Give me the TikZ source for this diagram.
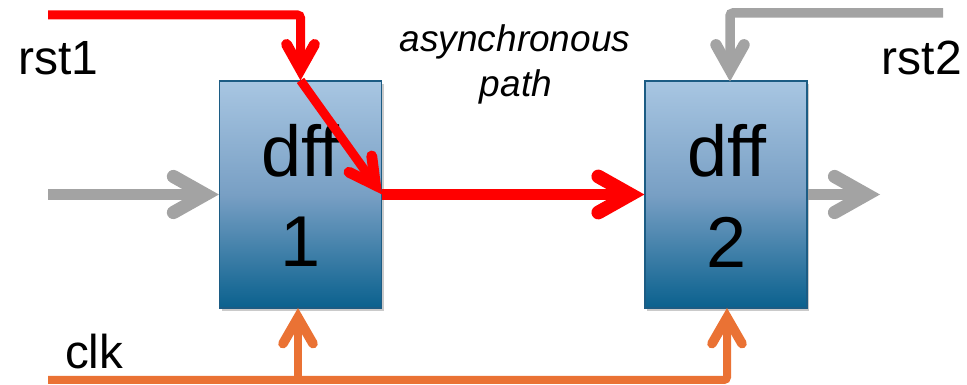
\documentclass[tikz,border=0pt]{standalone}
\usepackage{fontspec}
\setmainfont{Liberation Sans}
\usetikzlibrary{arrows.meta,shadows}

\definecolor{sigred}{RGB}{255,0,0}
\definecolor{siggray}{RGB}{163,163,163}
\definecolor{clkorange}{RGB}{234,114,52}
\definecolor{fftop}{RGB}{168,198,226}
\definecolor{ffmid}{RGB}{120,159,196}
\definecolor{ffbot}{RGB}{10,97,142}
\definecolor{ffedge}{RGB}{28,92,132}

\tikzset{
  hhead/.tip={Straight Barb[length=32pt,width=36pt,line width=0pt 1.2,line cap=round,line join=miter]},
  vhead/.tip={Straight Barb[length=25pt,width=28pt,line width=0pt 1.2,line cap=round,line join=miter]},
  chead/.tip={Straight Barb[length=26pt,width=30pt,line width=0pt 1.2,line cap=round,line join=miter]},
  dhead/.tip={Straight Barb[length=26pt,width=28pt,line width=0pt 1.2,line cap=round,line join=miter]},
  ffbox/.style={rectangle, draw=ffedge, line width=1.2pt,
    minimum width=162pt, minimum height=227pt, inner sep=0pt,
    top color=fftop, bottom color=ffbot, middle color=ffmid,
    drop shadow={shadow xshift=2pt, shadow yshift=-3pt, opacity=.35, fill=black!60}},
  fftext/.style={font=\fontsize{72}{72}\selectfont, inner sep=0pt, anchor=base},
  siglabel/.style={font=\fontsize{48}{48}\selectfont, inner sep=0pt},
  notelabel/.style={font=\fontsize{37}{37}\selectfont\itshape, inner sep=0pt, anchor=base},
  redwire/.style={draw=sigred, line width=9pt},
  graywire/.style={draw=siggray, line width=11pt},
  clkwire/.style={draw=clkorange, line width=8pt},
}

\begin{document}
\begin{tikzpicture}[x=1pt,y=1pt]
  \useasboundingbox (0,0) rectangle (967,385);

  % flip-flops
  \node[ffbox] (ff1) at (300.5,190.5) {};
  \node[ffbox] (ff2) at (726,190.5) {};
  \node[fftext] (ff1a) at (300.5,208) {dff};
  \node[fftext] (ff1b) at (300.5,118) {1};
  \node[fftext] (ff2a) at (727,208) {dff};
  \node[fftext] (ff2b) at (727,117) {2};

  % signal names
  \node[siglabel, anchor=base west] (rst1) at (18,310) {rst1};
  \node[siglabel, anchor=base east] (rst2) at (962,310) {rst2};
  \node[siglabel, anchor=base west, font=\fontsize{47.5}{47.5}\selectfont] (clk) at (65,16) {clk};
  \node[notelabel] (note1) at (515,333) {asynchronous};
  \node[notelabel] (note2) at (516,288) {path};

  % wire end points
  \coordinate (rst1in) at (48,370);
  \coordinate (rst1bend) at (300.5,370);
  \coordinate (rst2in) at (943,372);
  \coordinate (rst2bend) at (730,372);
  \coordinate (rst2end) at (730,303.5);
  \coordinate (din) at (48,190.5);
  \coordinate (qout) at (880,190.5);
  \coordinate (clkin) at (48,5);
  \coordinate (clktap) at (298,5);
  \coordinate (clktop) at (298,77);
  \coordinate (clkbend) at (727,5);
  \coordinate (clkend) at (727,77);

  % gray data and reset wires
  \draw[graywire, -hhead] (din) -- (ff1.west);
  \draw[graywire, -hhead] (ff2.east) -- (qout);
  \draw[graywire, line width=9.5pt, -vhead, rounded corners=3pt] (rst2in) -- (rst2bend) -- (rst2end);

  % clock tree
  \draw[clkwire, -chead, rounded corners=3pt] (clkin) -- (clkbend) -- (clkend);
  \draw[clkwire, -chead] (clktap) -- (clktop);

  % asynchronous reset path
  \draw[redwire, -vhead, rounded corners=3pt] (rst1in) -- (rst1bend) -- (ff1.north);
  \draw[redwire, -dhead] (ff1.north) -- (ff1.east);
  \draw[redwire, line width=11.5pt, -hhead] (ff1.east) -- (ff2.west);
\end{tikzpicture}
\end{document}
